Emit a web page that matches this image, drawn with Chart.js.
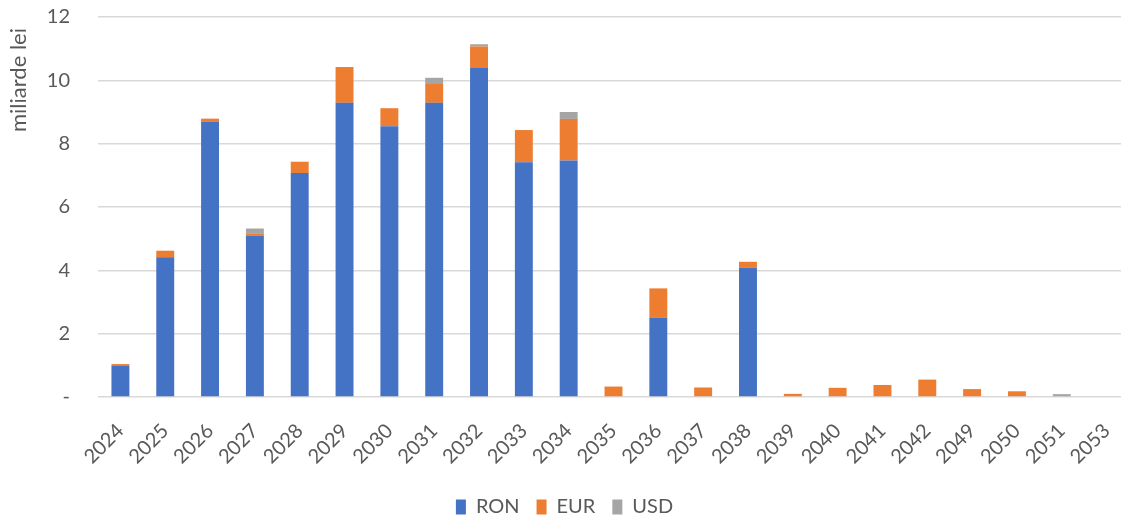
<!DOCTYPE html>
<html>
<head>
<meta charset="utf-8">
<script src="https://cdn.jsdelivr.net/npm/chart.js@4/dist/chart.umd.min.js"></script>
<style>
  html, body { margin: 0; padding: 0; background: #fff; overflow: hidden; }
  #wrap { width: 1129px; height: 518px; }
</style>
</head>
<body>
<div id="wrap"><canvas id="maturitati" width="1129" height="518"></canvas></div>
<script>
var years = ['2024', '2025', '2026', '2027', '2028', '2029', '2030', '2031', '2032', '2033', '2034', '2035',
    '2036', '2037', '2038', '2039', '2040', '2041', '2042', '2049', '2050', '2051', '2053'];

var ron = [0.98, 4.41, 8.70, 5.10, 7.07, 9.29, 8.55, 9.29, 10.39, 7.41, 7.47, 0,
    2.51, 0, 4.09, 0, 0, 0, 0, 0, 0, 0, 0];
var eur = [0.06, 0.21, 0.09, 0.07, 0.36, 1.13, 0.57, 0.62, 0.68, 1.02, 1.31, 0.33,
    0.92, 0.30, 0.18, 0.10, 0.29, 0.38, 0.55, 0.25, 0.18, 0, 0];
var usd = [0, 0, 0, 0.15, 0, 0, 0, 0.17, 0.07, 0, 0.22, 0,
    0, 0, 0, 0, 0, 0, 0, 0, 0, 0.09, 0];

var yTicks = [0, 2, 4, 6, 8, 10, 12];

var grey = '#595959';
var font = 'Lato, "Open Sans", sans-serif';

// axis title drawn at the top-left, rotated
var yTitle = {
    id: 'yTitle',
    afterDraw: function (chart) {
        var c = chart.ctx;
        c.save();
        c.translate(19, 80);
        c.rotate(-Math.PI / 2);
        c.font = '22px ' + font;
        c.fillStyle = grey;
        c.textAlign = 'center';
        c.textBaseline = 'middle';
        c.fillText('miliarde lei', 0, 0);
        c.restore();
    }
};

function series(label, values, color) {
    return {
        label: label,
        data: values,
        backgroundColor: color,
        borderWidth: 0,
        barPercentage: 1,
        categoryPercentage: 0.4
    };
}

var ctx = document.getElementById('maturitati');
var chart = new Chart(ctx, {
    type: 'bar',
    data: {
        labels: years,
        datasets: [
            series('RON', ron, '#4472C4'),
            series('EUR', eur, '#ED7D31'),
            series('USD', usd, '#A5A5A5')
        ]
    },
    plugins: [yTitle],
    options: {
        responsive: false,
        animation: false,
        // legend sits a little lower than the default bottom gap allows
        layout: { padding: { top: 17, right: 0, left: 0, bottom: -9 } },
        scales: {
            x: {
                stacked: true,
                grid: { display: false },
                border: { display: false },
                ticks: {
                    color: grey,
                    font: { family: font, size: 20 },
                    minRotation: 45,
                    maxRotation: 45,
                    padding: 14
                },
                afterFit: function (scale) {
                    scale.height = 83;
                    scale.paddingLeft = 0;
                    scale.paddingRight = 0;
                }
            },
            y: {
                stacked: true,
                min: 0,
                max: 12,
                afterBuildTicks: function (scale) {
                    scale.ticks = yTicks.map(function (v) { return { value: v }; });
                },
                grid: { color: '#d9d9d9', lineWidth: 1.5, drawTicks: false },
                border: { display: false },
                ticks: {
                    color: grey,
                    font: { family: font, size: 20 },
                    padding: 28,
                    callback: function (v) { return v === 0 ? '-' : v; }
                },
                afterFit: function (scale) {
                    scale.width = 98;
                    scale.paddingTop = 0;
                    scale.paddingBottom = 0;
                }
            }
        },
        plugins: {
            legend: {
                position: 'bottom',
                labels: {
                    color: grey,
                    font: { family: font, size: 20 },
                    boxWidth: 10,
                    boxHeight: 15,
                    padding: 17
                }
            },
            tooltip: { enabled: false }
        }
    }
});
</script>
</body>
</html>
